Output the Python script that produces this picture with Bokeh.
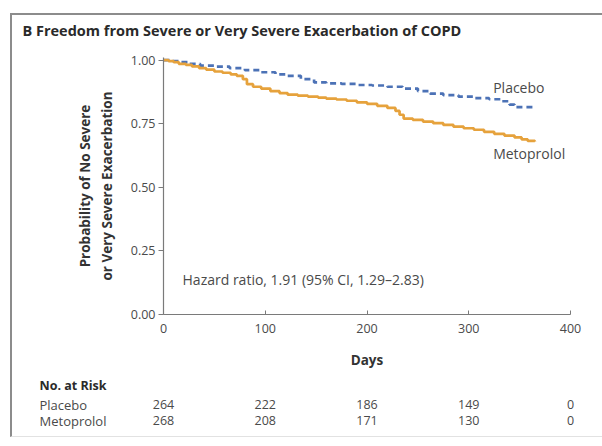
from bokeh.plotting import figure
from bokeh.layouts import column
from bokeh.models import Range1d, Label, FixedTicker
from bokeh.core.properties import value
from bokeh.embed import file_html
from bokeh.resources import INLINE

# ---- data ----
meto_days = [0, 5, 10, 15, 22, 28, 35, 42, 50, 58, 66, 72, 78, 82, 88, 96, 105, 114, 122, 132,
             142, 152, 160, 170, 180, 190, 200, 210, 220, 228, 232, 236, 245, 255, 265, 275,
             285, 295, 305, 315, 325, 335, 345, 352, 358, 365]
meto_surv = [1.000, 0.996, 0.992, 0.985, 0.981, 0.975, 0.968, 0.962, 0.955, 0.950, 0.944, 0.938,
             0.925, 0.905, 0.895, 0.888, 0.878, 0.870, 0.864, 0.860, 0.856, 0.852, 0.848, 0.845,
             0.840, 0.834, 0.828, 0.820, 0.812, 0.800, 0.785, 0.770, 0.765, 0.758, 0.752, 0.745,
             0.738, 0.732, 0.726, 0.718, 0.710, 0.703, 0.696, 0.688, 0.682, 0.680]

plac_days = [0, 8, 16, 25, 36, 50, 65, 80, 95, 110, 120, 135, 148, 160, 175, 190, 205, 220,
             235, 250, 262, 275, 290, 305, 320, 332, 340, 345, 365]
plac_surv = [1.000, 0.996, 0.992, 0.985, 0.978, 0.974, 0.968, 0.960, 0.952, 0.944, 0.938, 0.925,
             0.912, 0.908, 0.906, 0.902, 0.900, 0.895, 0.888, 0.878, 0.868, 0.862, 0.856, 0.850,
             0.846, 0.838, 0.825, 0.815, 0.812]

risk_days = [0, 100, 200, 300, 400]
plac_risk = [264, 222, 186, 149, 0]
meto_risk = [268, 208, 171, 130, 0]
risk_groups = ["Placebo", "Metoprolol"]

x_ticks = [0, 100, 200, 300, 400]
y_ticks = [0.0, 0.25, 0.5, 0.75, 1.0]
y_tick_labels = {0.0: "0.00", 0.25: "0.25", 0.5: "0.50", 0.75: "0.75", 1.0: "1.00"}

ORANGE = "#E6A23C"
BLUE = "#4C72B6"
TXT = "#4a4a4a"
FONT = "Open Sans"

W = 590
PX_PER_DAY = 407 / 400.0
LEFT = 151
RIGHT = 32
x0 = -LEFT / PX_PER_DAY
x1 = (W - LEFT) / PX_PER_DAY


def strip(height):
    f = figure(width=W, height=height, output_backend="svg", toolbar_location=None,
               x_range=Range1d(x0, x1), y_range=Range1d(0, height),
               x_axis_type=None, y_axis_type=None, min_border=0)
    f.outline_line_color = None
    f.xgrid.visible = False
    f.ygrid.visible = False
    return f


name_x = x0 + 10 / PX_PER_DAY

# ---------------- title strip ----------------
HH = 34
h = strip(HH)
h.text(x=[name_x], y=[HH - 15], text=["B  Freedom from Severe or Very Severe Exacerbation of COPD"],
       text_font=value(FONT), text_font_size="14.5px", text_font_style="bold",
       text_color="#2a2a2a", text_baseline="middle")

# ---------------- main plot ----------------
PH = 323
p = figure(width=W, height=PH, output_backend="svg", toolbar_location=None,
           x_range=Range1d(0, 400), y_range=Range1d(0, 1.01),
           min_border_left=LEFT, min_border_right=RIGHT, min_border_top=8, min_border_bottom=58)
p.title.visible = False
p.outline_line_color = None
p.xgrid.visible = False
p.ygrid.visible = False

p.xaxis.ticker = FixedTicker(ticks=x_ticks)
p.yaxis.ticker = FixedTicker(ticks=y_ticks)
p.yaxis.major_label_overrides = y_tick_labels
for ax in (p.xaxis[0], p.yaxis[0]):
    ax.axis_line_color = "#7a7a7a"
    ax.axis_line_width = 1.2
    ax.major_tick_line_color = "#7a7a7a"
    ax.minor_tick_line_color = None
    ax.major_label_text_font = FONT
    ax.major_label_text_font_size = "12.5px"
    ax.major_label_text_color = TXT
p.xaxis.major_tick_in = 4
p.xaxis.major_tick_out = 0
p.xaxis.major_label_standoff = 9
p.yaxis.major_tick_in = 0
p.yaxis.major_tick_out = 5
p.yaxis.major_label_standoff = 3

p.xaxis.axis_label = "Days"
p.xaxis.axis_label_text_font = FONT
p.xaxis.axis_label_text_font_style = "bold"
p.xaxis.axis_label_text_font_size = "13.5px"
p.xaxis.axis_label_text_color = "#333333"
p.xaxis.axis_label_standoff = 15

p.yaxis.axis_label = "Probability of No Severe\nor Very Severe Exacerbation"
p.yaxis.axis_label_text_font = FONT
p.yaxis.axis_label_text_font_style = "bold"
p.yaxis.axis_label_text_font_size = "13.5px"
p.yaxis.axis_label_text_color = "#333333"
p.yaxis.axis_label_standoff = 12

p.step(plac_days, plac_surv, mode="after", line_color=BLUE, line_width=2.7, line_dash="6 4")
p.step(meto_days, meto_surv, mode="after", line_color=ORANGE, line_width=2.7)


def lab(fig, x, y, t, size="14px", style="normal", color=TXT):
    fig.add_layout(Label(x=x, y=y, text=t, text_font=FONT, text_font_size=size,
                         text_font_style=style, text_color=color, text_align="left",
                         text_baseline="middle"))


lab(p, 18.7, 0.138, "Hazard ratio, 1.91 (95% CI, 1.29\u20132.83)")
lab(p, 324, 0.894, "Placebo")
lab(p, 324, 0.634, "Metoprolol")

# ---------------- number at risk table ----------------
RH = 64
t = strip(RH)
risk_name_x = x0 + 27 / PX_PER_DAY
t.text(x=[risk_name_x], y=[51], text=["No. at Risk"], text_font=value(FONT), text_font_size="12.5px",
       text_font_style="bold", text_color="#2a2a2a", text_baseline="middle")
t.text(x=[risk_name_x, risk_name_x], y=[32, 16], text=risk_groups, text_font=value(FONT),
       text_font_size="13px", text_color=TXT, text_baseline="middle")
t.text(x=risk_days, y=[32] * len(risk_days), text=[str(v) for v in plac_risk],
       text_font=value(FONT), text_font_size="12.5px", text_color=TXT,
       text_align="center", text_baseline="middle")
t.text(x=risk_days, y=[16] * len(risk_days), text=[str(v) for v in meto_risk],
       text_font=value(FONT), text_font_size="12.5px", text_color=TXT,
       text_align="center", text_baseline="middle")

layout = column(column(h), p, column(t), spacing=0, width=W + 2, height=HH + PH + RH + 3,
                styles={"margin-left": "10px", "margin-top": "13px", "overflow": "hidden",
                        "border-top": "2px solid #8c8c8c", "border-left": "2px solid #8c8c8c",
                        "border-bottom": "1px solid #e2e2e2"})

open("out.html", "w").write(file_html(layout, INLINE))
